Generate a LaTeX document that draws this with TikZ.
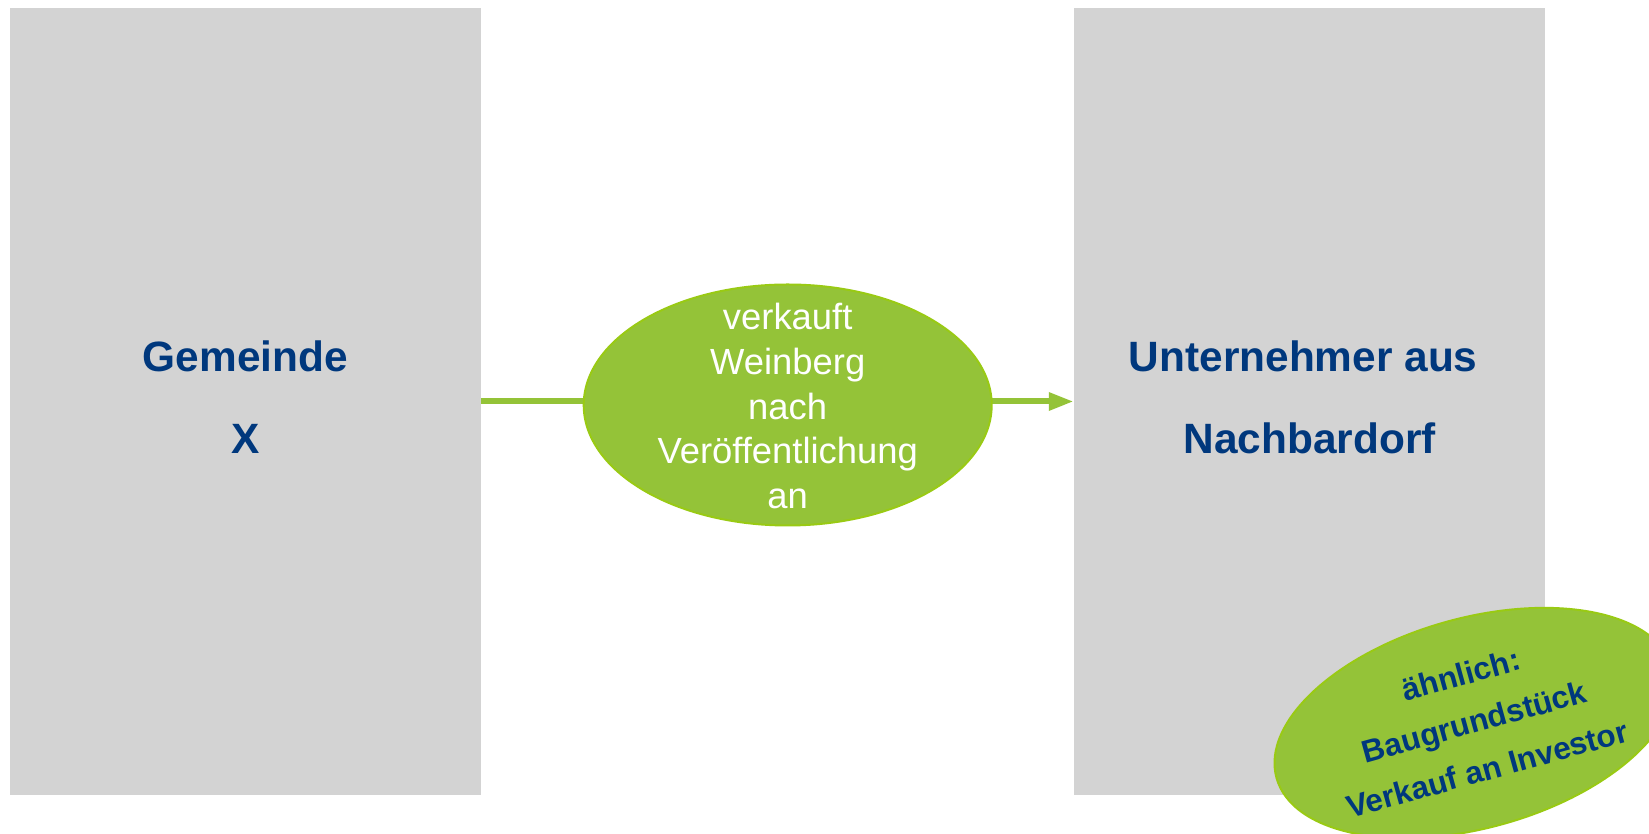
\documentclass[tikz,border=0pt]{standalone}
\usepackage{fontspec}
\setmainfont{Liberation Sans}
\usetikzlibrary{arrows.meta,shapes.geometric}
\definecolor{boxgrey}{RGB}{211,211,211}
\definecolor{lgreen}{RGB}{148,195,56}
\definecolor{lgreenborder}{RGB}{153,202,20}
\definecolor{dblue}{RGB}{0,56,125}
\tikzset{
  greybox/.style={draw=none,fill=boxgrey,minimum width=471.3pt,minimum height=787pt,inner sep=0pt},
  boxtext/.style={anchor=base,inner sep=0pt,text=dblue,font=\fontsize{42.4}{81.6}\selectfont\bfseries},
  greenell/.style={ellipse,fill=lgreen,draw=lgreenborder,line width=2pt,inner sep=0pt},
  elltext/.style={anchor=base,inner sep=0pt,text=white,font=\fontsize{36.4}{44.6}\selectfont},
  flow/.style={draw=lgreen,line width=6pt,-{Triangle[length=25pt,width=17pt]}},
}
\begin{document}
\begin{tikzpicture}[x=1pt,y=1pt]
\clip (0,0) rectangle (1649,834);
\useasboundingbox (0,0) rectangle (1649,834);
\fill[white] (0,0) rectangle (1649,834);
\node[greybox] (left) at (245.35,432.5) {};
\node[greybox] (right) at (1309.6,432.5) {};
\node[boxtext] (lefttext) at (245.35,462.3) {\begin{tabular}[t]{@{}c@{}}Gemeinde\\X\end{tabular}};
\node[boxtext] (righttext) at (1309.6,462.3) {\begin{tabular}[t]{@{}c@{}}Unternehmer aus\kern0.3em\\Nachbardorf\end{tabular}};
\draw[flow] (left.east) -- (right.west);
\node[greenell,minimum width=408pt,minimum height=241pt] (sale) at (787.7,429) {};
\node[elltext] (saletext) at (787.7,504) {\begin{tabular}[t]{@{}c@{}}verkauft\\Weinberg\\nach\\Ver\"offentlichung\\an\end{tabular}};
\node[greenell,rotate=15.5,minimum width=390pt,minimum height=210pt,text=dblue,font=\fontsize{31.5}{49}\selectfont\bfseries] (note) at (1474.5,111) {\begin{tabular}{@{}c@{}}\"ahnlich:\\Baugrundst\"uck\\Verkauf an Investor\end{tabular}};
\end{tikzpicture}
\end{document}
